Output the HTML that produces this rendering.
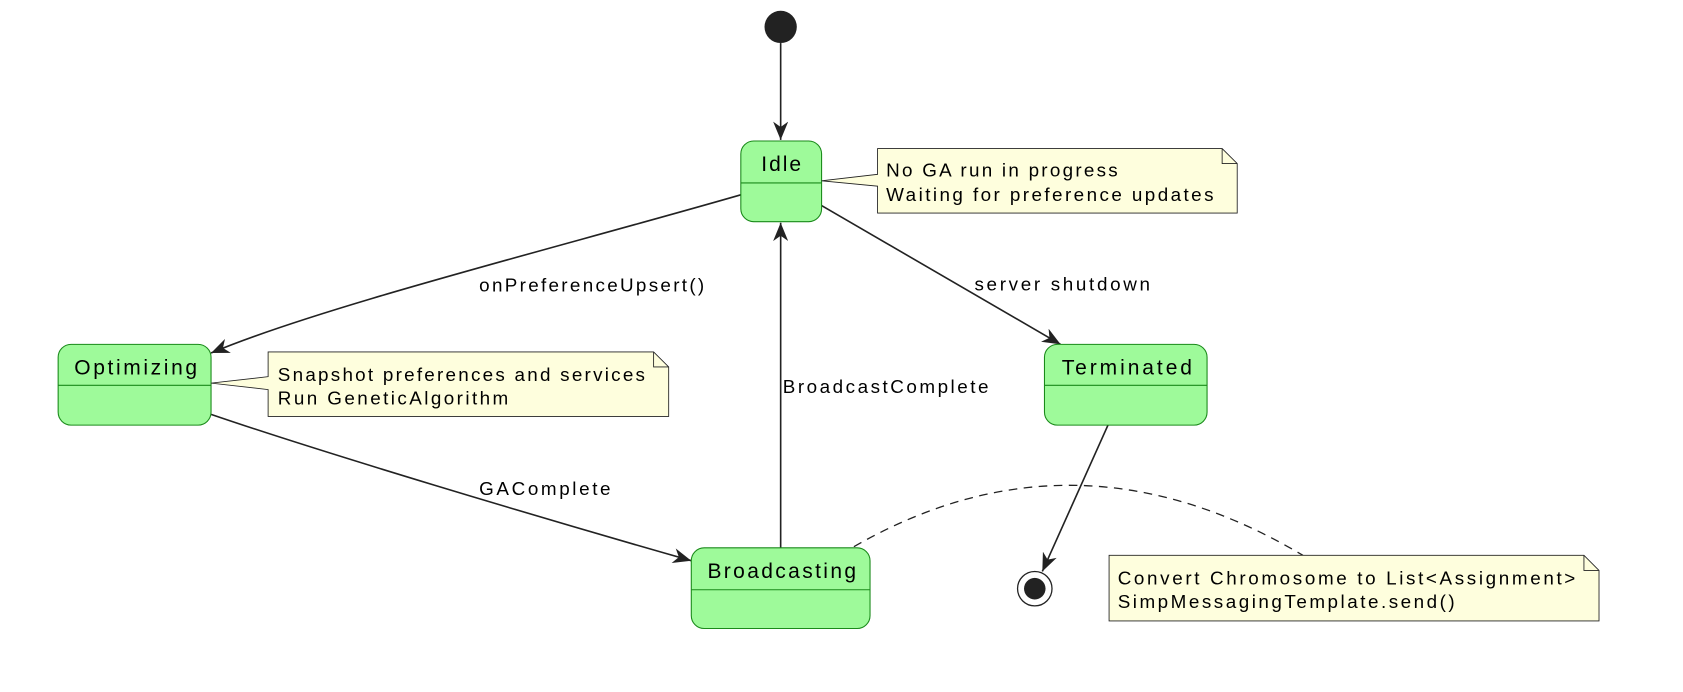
<!DOCTYPE html>
<html><head><meta charset="utf-8"><style>html,body{margin:0;padding:0;background:#fff}svg{display:block}</style></head>
<body>
<svg width="1683" height="692" viewBox="0 0 1563 643" preserveAspectRatio="none" xmlns="http://www.w3.org/2000/svg" font-family="Liberation Sans, sans-serif">
<defs>
<marker id="a" markerWidth="18" markerHeight="14" refX="17" refY="7" orient="auto" markerUnits="userSpaceOnUse">
<path d="M0,0 L17,7 L0,14 L5,7 z" fill="#222"/>
</marker>
</defs>
<g transform="translate(-2,0)">
<g stroke="#222" stroke-width="1.5" fill="none">
<line x1="727" y1="40" x2="727" y2="130" marker-end="url(#a)"/>
<path d="M690,181 C520,230 300,285 198,328" marker-end="url(#a)"/>
<line x1="765" y1="191" x2="987" y2="320" marker-end="url(#a)"/>
<line x1="727" y1="509" x2="727" y2="207" marker-end="url(#a)"/>
<path d="M198,385 C300,420 500,480 644,521" marker-end="url(#a)"/>
<line x1="1031" y1="395" x2="970" y2="531" marker-end="url(#a)"/>
<path d="M795,508 Q1000,390 1212,516" stroke-dasharray="8,6" stroke-width="1.2"/>
</g>
<circle cx="727" cy="25" r="15" fill="#222"/>
<circle cx="963" cy="547" r="16" fill="#fff" stroke="#222" stroke-width="1.2"/>
<circle cx="963" cy="547" r="10" fill="#222"/>
<g fill="#9efa9a" stroke="#1a8a1a" stroke-width="1">
<rect x="690" y="131" width="75" height="75" rx="12"/>
<rect x="56" y="320" width="142" height="75" rx="12"/>
<rect x="644" y="509" width="166" height="75" rx="12"/>
<rect x="972" y="320" width="151" height="75" rx="12"/>
</g>
<g stroke="#1a8a1a" stroke-width="1">
<line x1="690" y1="170" x2="765" y2="170"/>
<line x1="56" y1="358" x2="198" y2="358"/>
<line x1="644" y1="548" x2="810" y2="548"/>
<line x1="972" y1="358" x2="1123" y2="358"/>
</g>
<g fill="#fefedd" stroke="#222" stroke-width="0.8">
<path d="M817,138 H1137 L1151,152 V198 H817 V173 L765,168 L817,162 Z"/>
<path d="M1137,138 V152 H1151" fill="none"/>
<path d="M251,327 H609 L623,341 V387 H251 V362 L198,356 L251,350 Z"/>
<path d="M609,327 V341 H623" fill="none"/>
<path d="M1032,516 H1473 L1487,530 V577 H1032 Z"/>
<path d="M1473,516 V530 H1487" fill="none"/>
</g>
<g font-size="19.5" fill="#000">
<text x="709" y="159" textLength="37" lengthAdjust="spacing">Idle</text>
<text x="71" y="348" textLength="114" lengthAdjust="spacing">Optimizing</text>
<text x="659" y="537" textLength="138" lengthAdjust="spacing">Broadcasting</text>
<text x="988" y="348" textLength="121" lengthAdjust="spacing">Terminated</text>
</g>
<g font-size="17.5" fill="#000">
<text x="825" y="164" textLength="215" lengthAdjust="spacing">No GA run in progress</text>
<text x="825" y="187" textLength="304" lengthAdjust="spacing">Waiting for preference updates</text>
<text x="260" y="354" textLength="341" lengthAdjust="spacing">Snapshot preferences and services</text>
<text x="260" y="376" textLength="214" lengthAdjust="spacing">Run GeneticAlgorithm</text>
<text x="1040" y="543" textLength="425" lengthAdjust="spacing">Convert Chromosome to List&lt;Assignment&gt;</text>
<text x="1040" y="565" textLength="313" lengthAdjust="spacing">SimpMessagingTemplate.send()</text>
<text x="447" y="271" textLength="209" lengthAdjust="spacing">onPreferenceUpsert()</text>
<text x="907" y="270" textLength="163" lengthAdjust="spacing">server shutdown</text>
<text x="729" y="365" textLength="191" lengthAdjust="spacing">BroadcastComplete</text>
<text x="447" y="460" textLength="122" lengthAdjust="spacing">GAComplete</text>
</g>
</g>
</svg>
</body></html>
